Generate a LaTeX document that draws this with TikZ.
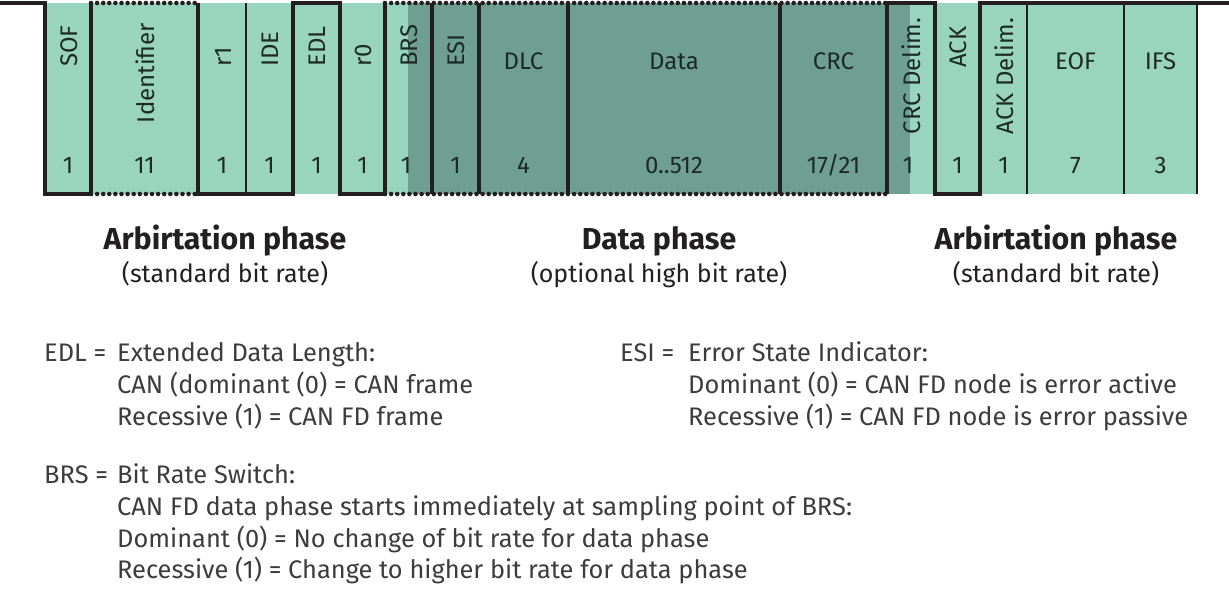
\documentclass[tikz,border=0pt]{standalone}
\usepackage{fontspec}
\setmainfont{Fira Sans}
\definecolor{fieldlight}{HTML}{99D4BF}
\definecolor{fielddark}{HTML}{6F9F91}
\definecolor{wavecol}{HTML}{231F20}
\definecolor{labelcol}{HTML}{1C2B26}
\definecolor{notecol}{HTML}{3C3C3C}
\begin{document}
\begin{tikzpicture}[x=1pt,y=-1pt,
  wave/.style={draw=wavecol,line width=4.2pt,line join=miter},
  dotwave/.style={draw=wavecol,line width=4.6pt,line cap=round,dash pattern=on 0pt off 6.1pt},
  divider/.style={draw=wavecol,line width=2pt},
  vlabel/.style={rotate=90,inner sep=0pt,text=labelcol,font=\fontsize{24}{28}\selectfont},
  hlabel/.style={inner sep=0pt,text=labelcol,font=\fontsize{24}{28}\selectfont},
  bits/.style={inner sep=0pt,anchor=base,text=labelcol,font=\fontsize{24}{28}\selectfont},
  phase/.style={inner sep=0pt,anchor=base,text=wavecol,font=\fontsize{30.3}{36}\selectfont\bfseries},
  rate/.style={inner sep=0pt,anchor=base,text=wavecol,font=\fontsize{25}{30}\selectfont},
  note/.style={inner sep=0pt,anchor=base west,text=notecol,font=\fontsize{25.4}{30}\selectfont}]
\useasboundingbox (0,0) rectangle (1229,589);

% field backgrounds: arbitration fields light, data-phase fields dark
\fill[fieldlight] (45,3) rectangle (1197,194);
\fill[fielddark] (408,3) rectangle (910,194);

% thin field separators
\foreach \x in {246,1027,1124,1197} \draw[divider] (\x,3) -- (\x,194);

% bus level: solid where the bit is fixed, dotted where it may be either level
\draw[wave] (0,3) -- (45,3) -- (45,194) -- (91,194) -- (91,3);
\draw[dotwave] (91,3) -- (198,3);
\draw[dotwave] (91,194) -- (198,194);
\draw[wave] (198,3) -- (198,194) -- (293,194) -- (293,3) -- (340,3) -- (340,194) -- (385,194) -- (385,3);
\draw[dotwave] (385,3) -- (887,3);
\draw[dotwave] (385,194) -- (887,194);
\foreach \x in {432,479,568,780} \draw[wave] (\x,3) -- (\x,194);
\draw[wave] (887,194) -- (887,3) -- (935,3) -- (935,194) -- (980,194) -- (980,3) -- (1229,3);

% field names
\node[vlabel,anchor=west] (sof) at (69,67) {SOF};
\node[vlabel] (id) at (145,73) {Identifier};
\node[vlabel,anchor=west] (r1) at (223,67) {r1};
\node[vlabel,anchor=west] (ide) at (270,67) {IDE};
\node[vlabel,anchor=west] (edl) at (317,67) {EDL};
\node[vlabel,anchor=west] (r0) at (363,67) {r0};
\node[vlabel,anchor=west] (brs) at (409,67) {BRS};
\node[vlabel,anchor=west] (esi) at (456,67) {ESI};
\node[hlabel] (dlc) at (523.5,61) {DLC};
\node[hlabel] (data) at (674,61) {Data};
\node[hlabel] (crc) at (833.5,61) {CRC};
\node[vlabel] (crcdel) at (911,76) {CRC Delim.};
\node[vlabel,anchor=west] (ack) at (958,68) {ACK};
\node[vlabel] (ackdel) at (1004,76) {ACK Delim.};
\node[hlabel] (eof) at (1075.5,61) {EOF};
\node[hlabel] (ifs) at (1160.5,61) {IFS};

% field lengths in bits
\node[bits] (n1) at (68,173) {1};
\node[bits] (n2) at (144.5,173) {11};
\node[bits] (n3) at (222,173) {1};
\node[bits] (n4) at (269.5,173) {1};
\node[bits] (n5) at (316.5,173) {1};
\node[bits] (n6) at (362.5,173) {1};
\node[bits] (n7) at (406,173) {1};
\node[bits] (n8) at (455.5,173) {1};
\node[bits] (n9) at (523.5,173) {4};
\node[bits] (n10) at (674,173) {0..512};
\node[bits] (n11) at (833.5,173) {17/21};
\node[bits] (n12) at (908,173) {1};
\node[bits] (n13) at (957.5,173) {1};
\node[bits] (n14) at (1003.5,173) {1};
\node[bits] (n15) at (1075.5,173) {7};
\node[bits] (n16) at (1160.5,173) {3};

% phases
\node[phase] (arb1) at (225,249) {Arbirtation phase};
\node[rate] (arb1r) at (225,282) {(standard bit rate)};
\node[phase] (dph) at (659,249) {Data phase};
\node[rate] (dphr) at (659,282) {(optional high bit rate)};
\node[phase] (arb2) at (1056,249) {Arbirtation phase};
\node[rate] (arb2r) at (1056,282) {(standard bit rate)};

% abbreviations
\node[note] (edlk) at (44,361) {EDL =};
\node[note] (edl1) at (117,361) {Extended Data Length:};
\node[note] (edl2) at (117,393) {CAN (dominant (0) = CAN frame};
\node[note] (edl3) at (117,425) {Recessive (1) = CAN FD frame};

\node[note] (esik) at (620,361) {ESI =};
\node[note] (esi1) at (688,361) {Error State Indicator:};
\node[note] (esi2) at (688,393) {Dominant (0) = CAN FD node is error active};
\node[note] (esi3) at (688,425) {Recessive (1) = CAN FD node is error passive};

\node[note] (brsk) at (44,483) {BRS =};
\node[note] (brs1) at (117,483) {Bit Rate Switch:};
\node[note] (brs2) at (117,515) {CAN FD data phase starts immediately at sampling point of BRS:};
\node[note] (brs3) at (117,547) {Dominant (0) = No change of bit rate for data phase};
\node[note] (brs4) at (117,578) {Recessive (1) = Change to higher bit rate for data phase};
\end{tikzpicture}
\end{document}
